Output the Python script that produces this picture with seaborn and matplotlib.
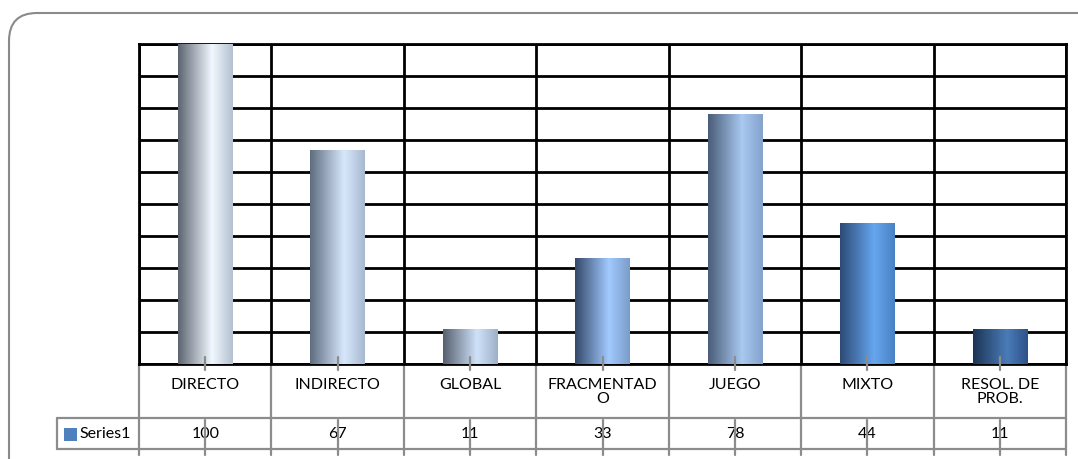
import numpy as np
import pandas as pd
import seaborn as sns
import matplotlib
matplotlib.use("Agg")
import matplotlib.pyplot as plt
import matplotlib.transforms as mtransforms
from matplotlib.colors import to_rgb
from matplotlib.patches import FancyBboxPatch, Rectangle

# ---- data ----
categories = ["DIRECTO", "INDIRECTO", "GLOBAL", "FRACMENTADO", "JUEGO", "MIXTO", "RESOL. DE PROB."]
display_labels = ["DIRECTO", "INDIRECTO", "GLOBAL", "FRACMENTAD\nO", "JUEGO", "MIXTO", "RESOL. DE\nPROB."]
values = [100, 67, 11, 33, 78, 44, 11]
series_name = "Series1"

# per-bar cylinder shading: (shadow edge, highlight, right edge)
bar_shades = [
    ("#5c6470", "#f2f8ff", "#b4c0d0"),
    ("#5e6c80", "#d8e8fc", "#a8b8d0"),
    ("#56606e", "#cfe2fa", "#9eb0c8"),
    ("#34486a", "#a2caff", "#7a9cc8"),
    ("#4a5c78", "#a9c9f0", "#84a2cc"),
    ("#2c4a76", "#66a6ee", "#4a82c4"),
    ("#1c3454", "#4a7cb8", "#2e5288"),
]

W, H = 1078, 459
sns.set_theme(style="white")
plt.rcParams["font.family"] = ["Lato", "DejaVu Sans"]

fig = plt.figure(figsize=(W / 100, H / 100), dpi=100)
ax = fig.add_axes([139 / W, (H - 364) / H, (1066 - 139) / W, (364 - 44) / H])

df = pd.DataFrame({"cat": categories, "val": values})
sns.barplot(data=df, x="cat", y="val", width=0.41, color="#4f81bd", ax=ax, zorder=3)

ax.set_xlim(-0.5, len(categories) - 0.5)
ax.set_ylim(0, 100)
ax.set_yticks(np.arange(0, 101, 10))
ax.set_xticks(np.arange(-0.5, len(categories), 1.0), minor=True)
ax.yaxis.grid(True, color="black", lw=2)
ax.xaxis.grid(True, which="minor", color="black", lw=2)
ax.xaxis.grid(False, which="major")
ax.set_axisbelow(True)
ax.tick_params(which="both", length=0, labelbottom=False, labelleft=False)
ax.set_xlabel("")
ax.set_ylabel("")
for s in ax.spines.values():
    s.set_color("black")
    s.set_linewidth(2)

# cylinder-like horizontal gradient on every bar
stops = np.array([0.0, 0.62, 1.0])
xs = np.linspace(0, 1, 200)
for patch, shade in zip(ax.patches, bar_shades):
    cols = np.array([to_rgb(c) for c in shade])
    grad = np.stack([np.interp(xs, stops, cols[:, k]) for k in range(3)], axis=-1)[None, :, :]
    x0, y0 = patch.get_x(), patch.get_y()
    w, h = patch.get_width(), patch.get_height()
    im = ax.imshow(grad, extent=[x0, x0 + w, y0, y0 + h], aspect="auto",
                   interpolation="bilinear", zorder=3.5)
    im.set_clip_path(patch)
    patch.set_facecolor("none")
    patch.set_edgecolor("none")
ax.set_xlim(-0.5, len(categories) - 0.5)
ax.set_ylim(0, 100)

# ---- data table below the plot ----
px = mtransforms.IdentityTransform()
bt = mtransforms.blended_transform_factory(ax.transData, px)
gray = "#8c8c8c"


def fy(y_top):
    return H - y_top


n = len(categories)
for b in np.arange(-0.5, n, 1.0):
    ax.plot([b, b], [fy(364), fy(455)], transform=bt, color=gray, lw=1.6, clip_on=False, zorder=1)
for i in range(n):
    ax.plot([i, i], [fy(357), fy(370)], transform=bt, color=gray, lw=1.6, clip_on=False, zorder=5)
    ax.plot([i, i], [fy(420), fy(455)], transform=bt, color=gray, lw=1.6, clip_on=False, zorder=5)

for yl in (418, 449):
    fig.add_artist(plt.Line2D([57, 1066], [fy(yl), fy(yl)], transform=px, color=gray, lw=1.6))
fig.add_artist(plt.Line2D([57, 57], [fy(418), fy(449)], transform=px, color=gray, lw=1.6))

for i, (lab, v) in enumerate(zip(display_labels, values)):
    for k, line in enumerate(lab.split("\n")):
        ax.text(i, fy(385 + 14 * k), line, transform=bt, ha="center", va="center",
                fontsize=11.5, color="black", clip_on=False)
    ax.text(i, fy(434), str(v), transform=bt, ha="center", va="center",
            fontsize=11.5, color="black", clip_on=False)

fig.add_artist(Rectangle((64, fy(441)), 13, 13, transform=px, facecolor="#4f81bd", edgecolor="none"))
fig.text(79, fy(434), series_name, transform=px, ha="left", va="center", fontsize=11.5, color="black")

# rounded chart-area frame
frame = FancyBboxPatch((9, -40), 1120, fy(13) + 40, boxstyle="round,pad=0,rounding_size=28",
                       transform=px, facecolor="none", edgecolor="#8a8a8a", lw=1.5)
fig.add_artist(frame)

fig.savefig("out.png", dpi=100)
